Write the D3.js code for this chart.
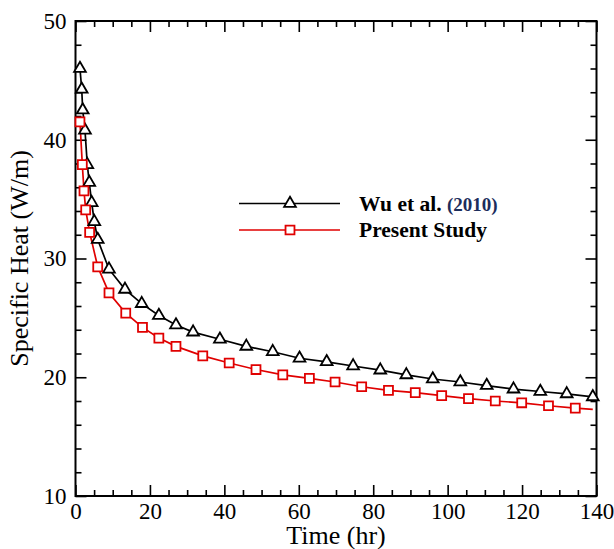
<!DOCTYPE html>
<meta charset="utf-8">
<script src="https://d3js.org/d3.v7.min.js"></script>
<style>
  body { margin: 0; background: #fff; }
  svg text { font-family: "Liberation Serif", "Times New Roman", serif; }
</style>
<div id="chart"></div>
<script>
// values
var wuTime = [1.2, 1.67, 1.94, 2.55, 3.17, 3.7, 4.35, 5.05, 5.97, 9.0, 13.3, 17.8, 22.4, 27.0, 31.6,
  38.8, 45.9, 53.0, 60.2, 67.5, 74.6, 81.9, 88.9, 96.0, 103.4, 110.5, 117.7, 124.9, 132.0, 139.0];
var wuHeat = [46.0, 44.25, 42.5, 40.8, 37.9, 36.4, 34.7, 33.1, 31.6, 29.1, 27.4, 26.2, 25.2, 24.4, 23.8,
  23.2, 22.6, 22.15, 21.6, 21.3, 20.95, 20.6, 20.2, 19.85, 19.6, 19.3, 19.0, 18.8, 18.6, 18.35];

// last point of this series has no marker in the original
var presentTime = [1.2, 1.83, 2.28, 2.74, 3.8, 5.97, 9.0, 13.5, 18.0, 22.4, 27.0, 34.2, 41.3, 48.5, 55.7,
  62.85, 69.75, 76.9, 84.1, 91.3, 98.4, 105.6, 112.8, 119.9, 127.1, 134.3, 139.0];
var presentHeat = [41.5, 37.9, 35.7, 34.1, 32.2, 29.3, 27.1, 25.4, 24.2, 23.3, 22.6, 21.8, 21.2, 20.65, 20.2,
  19.9, 19.6, 19.2, 18.9, 18.7, 18.45, 18.2, 18.0, 17.85, 17.6, 17.4, 17.3];

var xMajor = [0, 20, 40, 60, 80, 100, 120, 140];
var yMajor = [10, 20, 30, 40, 50];

var serif = '"Liberation Serif", "Times New Roman", serif';

var W = 614, H = 549;
var margin = { top: 21, right: 17.5, bottom: 53, left: 75.5 },
    width = W - margin.left - margin.right,
    height = H - margin.top - margin.bottom;

var svg = d3.select("#chart").append("svg")
    .attr("width", W).attr("height", H);
var g = svg.append("g")
    .attr("transform", "translate(" + margin.left + "," + margin.top + ")");

var x = d3.scaleLinear().domain([0, 140]).range([0, width]);
var y = d3.scaleLinear().domain([10, 50]).range([height, 0]);

var xMinor = d3.range(0, 141, 5).filter(function (d) { return d % 20 !== 0; });
var yMinor = d3.range(10, 51, 2).filter(function (d) { return d % 10 !== 0; });

function styleAxis(sel) {
  sel.attr("font-family", serif).attr("font-size", null);
  sel.select(".domain").remove();
  sel.selectAll("line").attr("stroke", "#000").attr("stroke-width", 1.6);
  sel.selectAll("text").attr("fill", "#000")
    .style("font-family", serif).style("font-size", "23px");
}

// major + minor ticks, all pointing inwards
g.append("g").attr("transform", "translate(0," + height + ")")
  .call(d3.axisBottom(x).tickValues(xMajor).tickSize(-11).tickPadding(7)).call(styleAxis);
g.append("g").attr("transform", "translate(0," + height + ")")
  .call(d3.axisBottom(x).tickValues(xMinor).tickSize(-6).tickFormat("")).call(styleAxis);
g.append("g")
  .call(d3.axisTop(x).tickValues(xMajor).tickSize(-11).tickFormat("")).call(styleAxis);
g.append("g")
  .call(d3.axisTop(x).tickValues(xMinor).tickSize(-6).tickFormat("")).call(styleAxis);

g.append("g")
  .call(d3.axisLeft(y).tickValues(yMajor).tickSize(-11).tickPadding(9)).call(styleAxis);
g.append("g")
  .call(d3.axisLeft(y).tickValues(yMinor).tickSize(-6).tickFormat("")).call(styleAxis);
g.append("g").attr("transform", "translate(" + width + ",0)")
  .call(d3.axisRight(y).tickValues(yMajor).tickSize(-11).tickFormat("")).call(styleAxis);
g.append("g").attr("transform", "translate(" + width + ",0)")
  .call(d3.axisRight(y).tickValues(yMinor).tickSize(-6).tickFormat("")).call(styleAxis);

g.append("rect")
  .attr("width", width).attr("height", height)
  .attr("fill", "none").attr("stroke", "#000").attr("stroke-width", 2);

// axis titles
g.append("text")
  .attr("x", width / 2).attr("y", height + 48)
  .attr("text-anchor", "middle").style("font-size", "26px")
  .text("Time (hr)");
g.append("text")
  .attr("transform", "rotate(-90)")
  .attr("x", -height / 2).attr("y", -48)
  .attr("text-anchor", "middle").style("font-size", "26px")
  .text("Specific Heat (W/m)");

var line = d3.line()
  .x(function (d) { return x(d[0]); })
  .y(function (d) { return y(d[1]); });

var wu = d3.zip(wuTime, wuHeat);
var present = d3.zip(presentTime, presentHeat);

g.append("path").datum(wu)
  .attr("d", line).attr("fill", "none").attr("stroke", "#000").attr("stroke-width", 1.7);
g.append("path").datum(present)
  .attr("d", line).attr("fill", "none").attr("stroke", "#e00000").attr("stroke-width", 1.7);

var tri = d3.symbol().type(d3.symbolTriangle).size(60);
var sq = d3.symbol().type(d3.symbolSquare).size(80);

g.selectAll(".tri").data(wu).enter().append("path")
  .attr("class", "tri")
  .attr("transform", function (d) { return "translate(" + x(d[0]) + "," + y(d[1]) + ")"; })
  .attr("d", tri).attr("fill", "#fff").attr("stroke", "#000").attr("stroke-width", 1.8);

g.selectAll(".sq").data(present.slice(0, present.length - 1)).enter().append("path")
  .attr("class", "sq")
  .attr("transform", function (d) { return "translate(" + x(d[0]) + "," + y(d[1]) + ")"; })
  .attr("d", sq).attr("fill", "#fff").attr("stroke", "#e00000").attr("stroke-width", 1.8);

// legend
var lg = svg.append("g");
lg.append("line").attr("x1", 239).attr("x2", 340).attr("y1", 203.5).attr("y2", 203.5)
  .attr("stroke", "#000").attr("stroke-width", 1.7);
lg.append("path").attr("transform", "translate(290,203.5)").attr("d", tri)
  .attr("fill", "#fff").attr("stroke", "#000").attr("stroke-width", 1.8);
lg.append("line").attr("x1", 239).attr("x2", 340).attr("y1", 230).attr("y2", 230)
  .attr("stroke", "#e00000").attr("stroke-width", 1.7);
lg.append("path").attr("transform", "translate(290,230)").attr("d", sq)
  .attr("fill", "#fff").attr("stroke", "#e00000").attr("stroke-width", 1.8);

var t1 = lg.append("text").attr("x", 359).attr("y", 211)
  .style("font-size", "21.5px").style("font-weight", "bold");
t1.append("tspan").text("Wu et al. ");
t1.append("tspan").attr("fill", "#1c2d5c").style("font-size", "19px").text("(2010)");
lg.append("text").attr("x", 359).attr("y", 237)
  .style("font-size", "21.5px").style("font-weight", "bold")
  .text("Present Study");
</script>
